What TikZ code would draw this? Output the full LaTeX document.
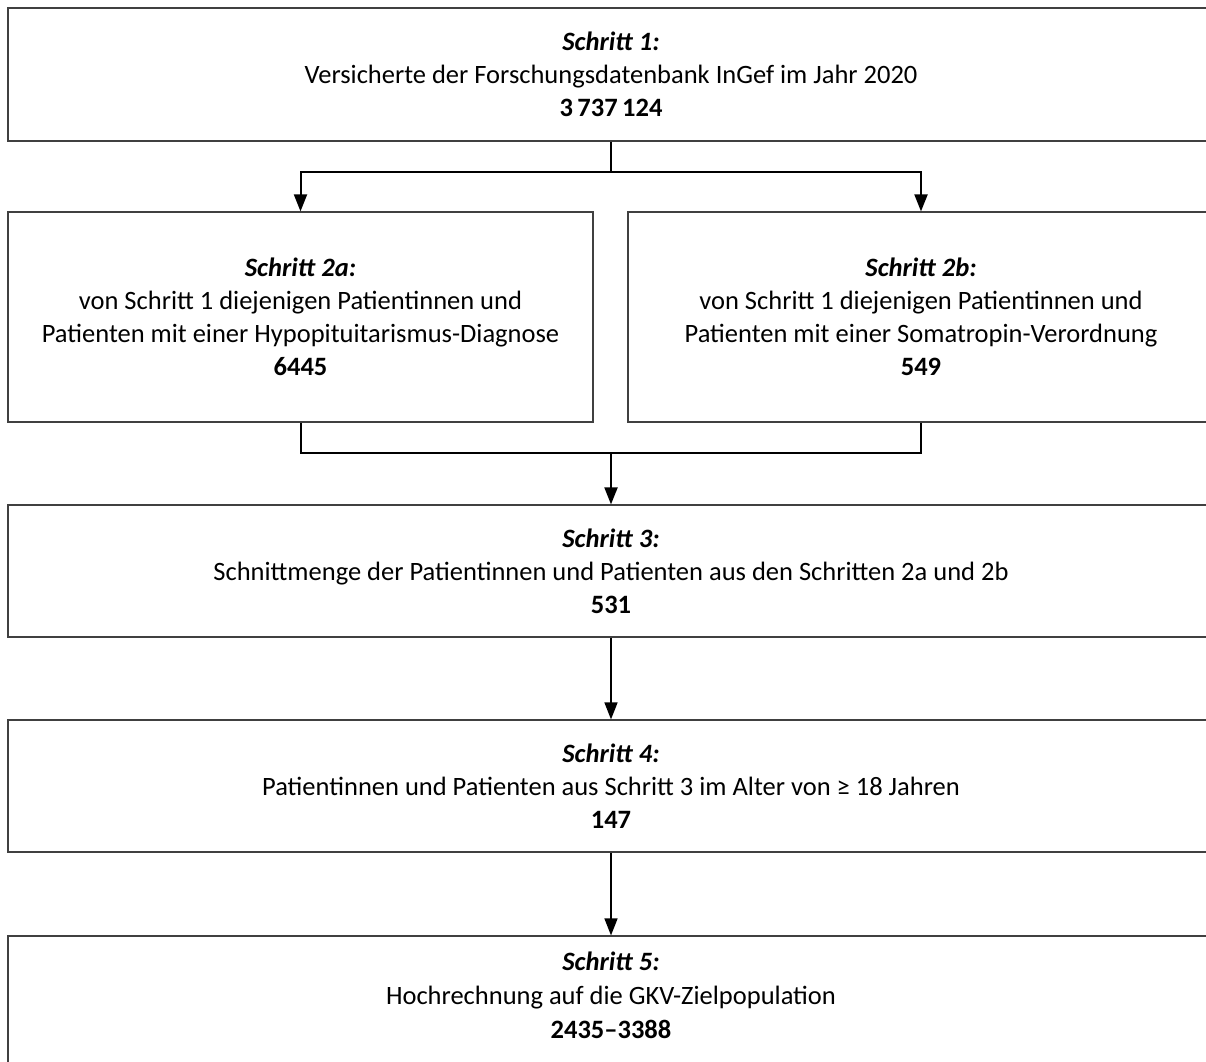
\documentclass[tikz,border=0pt]{standalone}
\usepackage{fontspec}
\setmainfont{Carlito}
\usetikzlibrary{arrows.meta}
\begin{document}
\begin{tikzpicture}[x=1pt,y=-1pt,
  box/.style={draw=black!75,line width=1.2pt,rectangle,inner sep=0pt,align=center,
    font=\fontsize{26.5}{33}\selectfont},
  conn/.style={draw=black,line width=2pt},
  arr/.style={conn,-{Triangle[length=17pt,width=13pt]}},
  thinarr/.style={draw=black,line width=1.5pt,-{Triangle[length=17pt,width=13pt]}},
  txt/.style={align=center,inner sep=0pt,font=\fontsize{26.5}{34}\selectfont}]
\useasboundingbox (0,0) rectangle (1206,1061);
\clip (0,0) rectangle (1206,1061);
\fill[white] (0,0) rectangle (1206,1061);

\node[box,minimum width=1206pt,minimum height=133pt] (b1) at (611,74.5)
  {\textbf{\textit{Schritt 1:}}\\Versicherte der Forschungsdatenbank InGef im Jahr 2020\\\textbf{3\,737\,124}};

\node[box,minimum width=585pt,minimum height=210pt] (b2a) at (300.5,317)
  {\textbf{\textit{Schritt 2a:}}\\von Schritt 1 diejenigen Patientinnen und\\Patienten mit einer Hypopituitarismus-Diagnose\\\textbf{6445}};

\node[box,minimum width=586pt,minimum height=210pt] (b2b) at (921,317)
  {\textbf{\textit{Schritt 2b:}}\\von Schritt 1 diejenigen Patientinnen und\\Patienten mit einer Somatropin-Verordnung\\\textbf{549}};

\node[box,minimum width=1206pt,minimum height=132pt] (b3) at (611,571)
  {\textbf{\textit{Schritt 3:}}\\Schnittmenge der Patientinnen und Patienten aus den Schritten 2a und 2b\\\textbf{531}};

\node[box,minimum width=1206pt,minimum height=132pt] (b4) at (611,786)
  {\textbf{\textit{Schritt 4:}}\\Patientinnen und Patienten aus Schritt 3 im Alter von ≥ 18 Jahren\\\textbf{147}};

\node[box,minimum width=1206pt,minimum height=134pt] (b5) at (611,1003) {};
\node[txt] (t5) at (611,995)
  {\textbf{\textit{Schritt 5:}}\\Hochrechnung auf die GKV-Zielpopulation\\\textbf{2435–3388}};

\coordinate (j1) at (611,172);
\coordinate (j2) at (611,453);

\draw[conn] (b1.south) -- (j1);
\draw[arr] (j1) -| (b2a.north);
\draw[arr] (j1) -| (b2b.north);
\draw[conn] (b2a.south) |- (j2);
\draw[conn] (b2b.south) |- (j2);
\draw[arr] (j2) -- (b3.north);
\draw[thinarr] (b3.south) -- (b4.north);
\draw[thinarr] (b4.south) -- (b5.north);
\end{tikzpicture}
\end{document}
